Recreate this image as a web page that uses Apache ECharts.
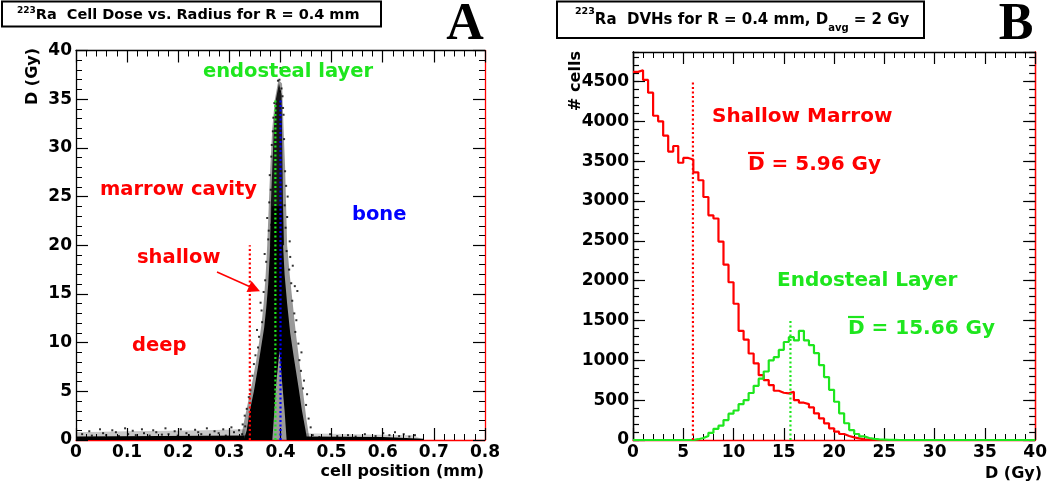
<!DOCTYPE html>
<html><head><meta charset="utf-8">
<script src="https://cdn.jsdelivr.net/npm/echarts@6/dist/echarts.min.js"></script>
<style>html,body{margin:0;padding:0;background:#fff}#c{width:1050px;height:484px}</style>
</head><body><div id="c"></div>
<script>
// ---------- Panel A data (cell dose vs. radius) ----------
const aXTicks = [0, 0.8, 0.1];        // min, max, interval (mm)
const aYTicks = [0, 40, 5];           // min, max, interval (Gy)
// dense black core of the scatter (outline): left flank up, right flank down, gap
const coreOutline = [
  [0.328,0],[0.334,1],[0.340,3],[0.348,5],[0.356,7.5],[0.362,9.5],[0.368,11.5],[0.372,13.5],[0.376,16],[0.379,19],[0.381,22],[0.383,24],
  [0.404,24],[0.405,20],[0.408,17],[0.413,14],[0.419,11],[0.426,8.5],[0.435,5.5],[0.442,3],[0.449,1],[0.452,0],
  [0.412,0],[0.408,3],[0.403,6],[0.398,9.2],[0.392,6],[0.388,3],[0.384,0]
];
// speckled upper part of the peak
const upperOutline = [
  [0.380,20],[0.381,24],[0.384,28],[0.387,32],[0.391,35],[0.397,36.6],[0.402,35.5],[0.403,32],[0.404,28],[0.405,24],[0.407,20]
];
// sparse halo of cells around the peak
const haloOutline = [
  [0.322,0],[0.329,2],[0.337,4],[0.345,6],[0.352,8],[0.358,10],[0.363,12],[0.367,14],[0.371,17],[0.374,20],[0.377,24],[0.380,28],[0.384,32],[0.389,35],[0.396,37],
  [0.403,36.6],[0.406,32],[0.409,28],[0.411,24],[0.413,20],[0.418,17],[0.424,14],[0.430,11],[0.437,8],[0.444,5],[0.451,2],[0.457,0]
];
// low-dose strips along the bottom
const baseLeftOutline = [[0,0],[0,0.35],[0.33,0.45],[0.33,0]];
const baseRightOutline = [[0.45,0],[0.45,0.35],[0.60,0.3],[0.68,0.12],[0.68,0]];
const baseLeftHalo = [[0,0],[0,0.8],[0.1,0.9],[0.25,1.0],[0.33,1.1],[0.33,0]];
const baseRightHalo = [[0.45,0],[0.45,0.7],[0.55,0.6],[0.66,0.5],[0.68,0]];
// individually visible cells
const peakDots = [
  [0.376,20.6],[0.378,24.4],[0.379,27.2],[0.382,22.1],[0.383,30.3],[0.381,25.7],[0.386,33.1],[0.377,21.5],[0.382,29.1],[0.385,31.7],
  [0.388,34.6],[0.372,18.3],[0.370,16.4],[0.367,15.2],[0.369,19.1],[0.363,13.3],[0.364,12.1],[0.358,10.6],[0.356,9.5],[0.361,14.1],
  [0.354,11.3],[0.351,8.7],[0.348,7.8],[0.345,6.6],[0.341,5.1],[0.338,4.4],[0.334,3.2],[0.330,2.5],[0.326,1.6],[0.374,22.8],
  [0.408,24.1],[0.410,21.8],[0.409,27.6],[0.407,30.9],[0.406,33.4],[0.404,35.3],[0.402,36.1],[0.399,35.8],[0.412,19.4],[0.417,17.5],
  [0.413,22.9],[0.421,16.1],[0.423,14.3],[0.427,13.0],[0.418,20.4],[0.429,11.1],[0.431,12.3],[0.435,9.9],[0.437,8.2],[0.440,7.1],
  [0.433,15.3],[0.444,5.3],[0.446,6.1],[0.450,3.6],[0.455,2.2],[0.459,1.3],[0.424,17.9],[0.411,26.1],[0.405,34.1],[0.428,15.8],
  [0.419,18.8],[0.414,25.0],[0.441,9.0],[0.452,4.7],[0.398,37.0],[0.400,38.2],[0.395,36.9]
];
const baseDots = [
  [0.012,0.6],[0.026,0.9],[0.031,0.45],[0.047,1.1],[0.053,0.7],[0.059,0.5],[0.071,1.0],[0.078,0.8],[0.084,0.4],[0.096,1.2],
  [0.102,0.6],[0.111,0.95],[0.117,0.5],[0.129,1.1],[0.133,0.7],[0.144,0.45],[0.151,1.0],[0.157,0.8],[0.168,0.55],[0.175,1.2],
  [0.181,0.6],[0.193,0.9],[0.199,0.45],[0.205,1.1],[0.216,0.7],[0.221,0.5],[0.233,1.05],[0.239,0.8],[0.245,0.6],[0.256,1.2],
  [0.262,0.55],[0.271,0.9],[0.279,0.7],[0.288,1.1],[0.293,0.45],[0.304,1.3],[0.309,0.8],[0.319,1.0],[0.325,0.6],[0.331,1.4],
  [0.463,0.5],[0.476,0.3],[0.497,0.6],[0.511,0.4],[0.532,0.5],[0.547,0.35],[0.565,0.6],[0.586,0.4],[0.601,0.7],[0.613,0.5],
  [0.624,0.8],[0.632,0.4],[0.641,0.6],[0.652,0.35],[0.663,0.5]
];
// region boundaries (dotted markers): [x, top]
const shallowLine = [0.34, 20];
const endostealLine = [0.39, 35];
const boneLine = [0.40, 35];

// ---------- Panel B data (DVHs, 0.5 Gy bins from 0 to 40 Gy) ----------
const binWidth = 0.5;
const bXTicks = [0, 40, 5];
const bYMax = 4870;
const shallowCounts = [
  4620,4640,4520,4360,4070,4000,3820,3620,3690,3480,
  3540,3520,3360,3260,3050,2820,2780,2490,2200,1980,
  1710,1370,1260,1086,961,814,752,689,618,593,
  585,606,501,468,451,409,334,271,209,146,
  104,75,50,33,21,8,3,0,0,0,
  0,0,0,0,0,0,0,0,0,0, 0,0,0,0,0,0,0,0,0,0, 0,0,0,0,0,0,0,0,0,0
];
const endostealCounts = [
  0,0,0,0,0,0,0,0,0,0,
  0,0,10,25,50,90,140,180,250,330,
  370,450,500,590,680,770,860,1000,1040,1130,
  1230,1290,1250,1370,1250,1190,1090,940,790,630,
  480,335,210,125,75,45,25,15,8,5,
  2,1,0,0,0,0,0,0,0,0, 0,0,0,0,0,0,0,0,0,0, 0,0,0,0,0,0,0,0,0,0
];
const shallowMean = 5.96, shallowMeanTop = 4500;
const endoMean = 15.66, endoMeanTop = 1500;

// ---------- build ----------
const FONT = 'DejaVu Sans';
const RED = '#ff0000', GREEN = '#1ee61e', BLUE = '#0000ff';

function histData(counts) {
  const d = counts.map((v, k) => [k * binWidth, v]);
  d.push([counts.length * binWidth, counts[counts.length - 1]]);
  return d;
}
function poly(pts, fill, opacity, z) {
  return {
    type: 'custom', xAxisIndex: 0, yAxisIndex: 0, data: [0], silent: true, z: z || 3,
    renderItem: (p, api) => ({ type: 'polygon', shape: { points: pts.map(q => api.coord(q)) },
      style: { fill: fill, opacity: opacity } })
  };
}
function vline(v, color, xi, yi) {
  return { type: 'line', xAxisIndex: xi, yAxisIndex: yi, data: [[v[0], 0], [v[0], v[1]]], symbol: 'none', z: 6,
    lineStyle: { color: color, width: 2.2, type: [2, 2.5] }, silent: true };
}
const lab = { fontFamily: FONT, fontWeight: 'bold', fontSize: 17, color: '#000' };
const fmt = v => String(Math.round(v * 1000) / 1000);
function xAx(grid, t, pos, show, lineColor) {
  return { gridIndex: grid, type: 'value', min: t[0], max: t[1], interval: t[2], position: pos,
    axisLine: { show: true, onZero: false, lineStyle: { color: lineColor, width: 1.3 } },
    axisTick: { show: true, inside: true, length: 12, lineStyle: { color: '#000', width: 1.2 } },
    minorTick: { show: true, splitNumber: 5, length: 6, lineStyle: { color: '#000', width: 1 } },
    splitLine: { show: false }, minorSplitLine: { show: false },
    axisLabel: Object.assign({ show: show, margin: 4, formatter: fmt }, lab) };
}
function yAx(grid, min, max, interval, pos, show, lineColor, tickLen, minor) {
  return { gridIndex: grid, type: 'value', min: min, max: max, interval: interval, position: pos,
    axisLine: { show: true, onZero: false, lineStyle: { color: lineColor, width: 1.3 } },
    axisTick: { show: true, inside: true, length: tickLen, lineStyle: { color: '#000', width: 1.2 } },
    minorTick: { show: minor, splitNumber: 5, length: 6, lineStyle: { color: '#000', width: 1 } },
    splitLine: { show: false }, minorSplitLine: { show: false },
    axisLabel: Object.assign({ show: show, margin: 4, formatter: fmt, showMaxLabel: max % interval === 0 }, lab) };
}
function txt(x, y, s, color, size, align, rot) {
  return { type: 'text', x: x, y: y, rotation: rot || 0, z: 20, silent: true,
    style: { text: s, fill: color, font: 'bold ' + size + 'px "' + FONT + '"', align: align || 'left', verticalAlign: 'middle' } };
}

const option = {
  animation: false,
  backgroundColor: '#fff',
  grid: [
    { left: 76, top: 50.5, width: 409, height: 389.5 },
    { left: 633, top: 52, width: 410, height: 388 }
  ],
  xAxis: [
    xAx(0, aXTicks, 'bottom', true, RED),
    xAx(0, aXTicks, 'top', false, '#000'),
    xAx(1, bXTicks, 'bottom', true, RED),
    xAx(1, bXTicks, 'top', false, '#000')
  ],
  yAxis: [
    yAx(0, aYTicks[0], aYTicks[1], aYTicks[2], 'left', true, '#000', 12, true),
    yAx(0, aYTicks[0], aYTicks[1], aYTicks[2], 'right', false, RED, 12, true),
    yAx(1, 0, bYMax, 500, 'left', true, '#000', 12, false),
    yAx(1, 0, bYMax, 100, 'left', false, '#000', 6, false),
    yAx(1, 0, bYMax, 500, 'right', false, RED, 12, false),
    yAx(1, 0, bYMax, 100, 'right', false, RED, 6, false)
  ],
  series: [
    poly(baseLeftHalo, '#000', 0.22, 2),
    poly(baseRightHalo, '#000', 0.18, 2),
    poly(haloOutline, '#000', 0.4, 2),
    poly(baseLeftOutline, '#000', 1),
    poly(baseRightOutline, '#000', 1),
    poly(upperOutline, '#000', 0.85),
    poly(coreOutline, '#000', 1),
    { type: 'scatter', xAxisIndex: 0, yAxisIndex: 0, data: peakDots.concat(baseDots), symbol: 'rect', symbolSize: 2,
      itemStyle: { color: '#000' }, z: 4, silent: true },
    vline(shallowLine, RED, 0, 0),
    vline(endostealLine, GREEN, 0, 0),
    vline(boneLine, BLUE, 0, 0),
    { type: 'line', xAxisIndex: 2, yAxisIndex: 2, data: histData(shallowCounts), step: 'end', symbol: 'none',
      lineStyle: { color: RED, width: 2.2 }, z: 4, silent: true },
    { type: 'line', xAxisIndex: 2, yAxisIndex: 2, data: histData(endostealCounts), step: 'end', symbol: 'none',
      lineStyle: { color: GREEN, width: 2.2 }, z: 5, silent: true },
    vline([shallowMean, shallowMeanTop], RED, 2, 2),
    vline([endoMean, endoMeanTop], GREEN, 2, 2)
  ],
  graphic: [
    // title boxes
    { type: 'rect', shape: { x: 2, y: 1.5, width: 379, height: 25 }, style: { fill: '#fff', stroke: '#000', lineWidth: 2 }, z: 10 },
    { type: 'text', x: 17, y: 15, z: 20, style: {
        text: '{sup|223}{b|Ra  Cell Dose vs. Radius for R = 0.4 mm}',
        rich: { sup: { font: 'bold 9px "' + FONT + '"', fill: '#000', verticalAlign: 'top', lineHeight: 18 },
                b: { font: 'bold 14.5px "' + FONT + '"', fill: '#000', lineHeight: 18 } },
        verticalAlign: 'middle' } },
    { type: 'rect', shape: { x: 557, y: 1.5, width: 367, height: 36.5 }, style: { fill: '#fff', stroke: '#000', lineWidth: 2 }, z: 10 },
    { type: 'text', x: 575, y: 20, z: 20, style: {
        text: '{sup|223}{b|Ra  DVHs for R = 0.4 mm, D}{sub|avg}{b| = 2 Gy}',
        rich: { sup: { font: 'bold 9.5px "' + FONT + '"', fill: '#000', verticalAlign: 'top', lineHeight: 26 },
                sub: { font: 'bold 10px "' + FONT + '"', fill: '#000', verticalAlign: 'bottom', lineHeight: 26 },
                b: { font: 'bold 15px "' + FONT + '"', fill: '#000', lineHeight: 26 } },
        verticalAlign: 'middle' } },
    // panel letters
    { type: 'text', x: 465, y: 26, z: 20, style: { text: 'A', font: 'bold 52px "Liberation Serif"', fill: '#000', align: 'center', verticalAlign: 'middle' } },
    { type: 'text', x: 1016, y: 26, z: 20, style: { text: 'B', font: 'bold 52px "Liberation Serif"', fill: '#000', align: 'center', verticalAlign: 'middle' } },
    // axis titles
    txt(33, 76.5, 'D (Gy)', '#000', 16, 'center', Math.PI / 2),
    txt(484, 472, 'cell position (mm)', '#000', 16, 'right'),
    txt(576, 81, '# cells', '#000', 16, 'center', Math.PI / 2),
    txt(1042, 474, 'D (Gy)', '#000', 16, 'right'),
    // panel A annotations
    txt(203, 72, 'endosteal layer', GREEN, 19.5),
    txt(100, 190, 'marrow cavity', RED, 19.5),
    txt(352, 215, 'bone', BLUE, 19.5),
    txt(137, 258, 'shallow', RED, 19.5),
    txt(132, 346, 'deep', RED, 19.5),
    { type: 'line', z: 20, shape: { x1: 217, y1: 272, x2: 250, y2: 286.8 }, style: { stroke: RED, lineWidth: 1.5 } },
    { type: 'polygon', z: 20, shape: { points: [[251.5, 280.9], [246.5, 291.9], [260, 291.3]] }, style: { fill: RED } },
    // panel B annotations
    txt(712, 117, 'Shallow Marrow', RED, 20),
    txt(748, 165, 'D = 5.96 Gy', RED, 20),
    { type: 'line', z: 20, shape: { x1: 748, y1: 153, x2: 764, y2: 153 }, style: { stroke: RED, lineWidth: 2.2 } },
    txt(777, 281, 'Endosteal Layer', GREEN, 20),
    txt(848, 329, 'D = 15.66 Gy', GREEN, 20),
    { type: 'line', z: 20, shape: { x1: 848, y1: 317, x2: 864, y2: 317 }, style: { stroke: GREEN, lineWidth: 2.2 } }
  ]
};
const chart = echarts.init(document.getElementById('c'), null, { renderer: 'canvas' });
chart.setOption(option);
</script></body></html>
